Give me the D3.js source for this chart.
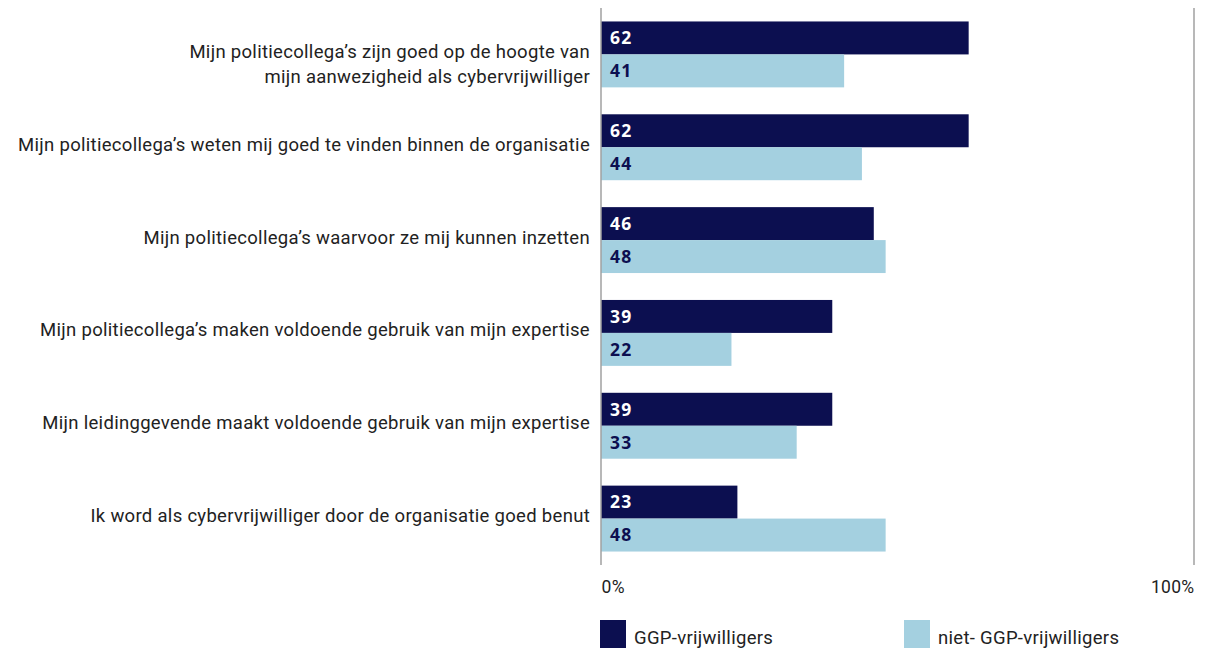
<!DOCTYPE html>
<html>
<head>
<meta charset="utf-8">
<script src="https://cdn.jsdelivr.net/npm/d3@7"></script>
<style>
  html, body { margin: 0; padding: 0; background: #fff; }
  svg { display: block; }
</style>
</head>
<body>
<svg id="chart" width="1210" height="651"></svg>
<script>
// Statements (two-line labels split with \n)
const categories = [
  "Mijn politiecollega’s zijn goed op de hoogte van\nmijn aanwezigheid als cybervrijwilliger",
  "Mijn politiecollega’s weten mij goed te vinden binnen de organisatie",
  "Mijn politiecollega’s waarvoor ze mij kunnen inzetten",
  "Mijn politiecollega’s maken voldoende gebruik van mijn expertise",
  "Mijn leidinggevende maakt voldoende gebruik van mijn expertise",
  "Ik word als cybervrijwilliger door de organisatie goed benut"
];
const seriesNames = ["GGP-vrijwilligers", "niet- GGP-vrijwilligers"];
const ggpValues = [62, 62, 46, 39, 39, 23];
const nietGgpValues = [41, 44, 48, 22, 33, 48];
const tickValues = [0, 100];
const tickLabels = ["0%", "100%"];

const colors = ["#0c0f50", "#a4d0e0"];
const labelColors = ["#ffffff", "#0c0f50"];

const svg = d3.select("#chart");
const x0 = 601, x1 = 1194, yTop = 8, yBottom = 565;

const x = d3.scaleLinear().domain([0, 100]).range([x0, x1]);
const y = d3.scaleBand().domain(categories).range([yTop, yBottom]).paddingInner(0.29).paddingOuter(0.145);
const ySub = d3.scaleBand().domain([0, 1]).range([0, y.bandwidth()]);

const series = [ggpValues, nietGgpValues];

// Bars with value labels
series.forEach((vals, si) => {
  const g = svg.append("g");
  g.selectAll("rect").data(vals).join("rect")
    .attr("x", x(0))
    .attr("y", (d, i) => y(categories[i]) + ySub(si))
    .attr("width", d => x(d) - x(0))
    .attr("height", ySub.bandwidth())
    .attr("fill", colors[si]);
  g.selectAll("text").data(vals).join("text")
    .attr("x", x(0) + 9)
    .attr("y", (d, i) => y(categories[i]) + ySub(si) + ySub.bandwidth() / 2)
    .attr("dy", "0.36em")
    .attr("fill", labelColors[si])
    .attr("font-family", "'Open Sans', sans-serif")
    .attr("font-weight", 700)
    .attr("font-size", 17.5)
    .attr("letter-spacing", 1.2)
    .text(d => d);
});

// Vertical lines at 0% and 100%
[0, 100].forEach(v => {
  svg.append("line")
    .attr("x1", x(v)).attr("x2", x(v))
    .attr("y1", yTop).attr("y2", yBottom)
    .attr("stroke", "#a0a0a0").attr("stroke-width", 1.5);
});

// Category labels: first line sits near the group centre, extra lines flow below
const catG = svg.append("g")
  .attr("font-family", "Roboto, sans-serif")
  .attr("font-size", 18.5)
  .attr("fill", "#222")
  .attr("text-anchor", "end")
  .attr("letter-spacing", 0.3);
categories.forEach(c => {
  const lines = c.split("\n");
  const cy = y(c) + y.bandwidth() / 2;
  const lh = 25;
  const t = catG.append("text").attr("x", 590).attr("y", cy - 3);
  lines.forEach((ln, i) => {
    t.append("tspan").attr("x", 590).attr("dy", i === 0 ? "0.35em" : lh).text(ln);
  });
});

// Tick labels
const xAxis = d3.axisBottom(x).tickValues(tickValues).tickFormat((d, i) => tickLabels[i]).tickSize(0).tickPadding(0);
const axisG = svg.append("g").attr("transform", `translate(0, 587)`).call(xAxis);
axisG.select(".domain").remove();
axisG.selectAll("text")
  .attr("font-family", "Roboto, sans-serif")
  .attr("font-size", 17.5)
  .attr("letter-spacing", 0.3)
  .attr("fill", "#222")
  .attr("dy", "0.35em")
  .attr("text-anchor", (d, i) => i === 0 ? "start" : "end");

// Legend
const legendX = [600, 904];
seriesNames.forEach((name, i) => {
  svg.append("rect").attr("x", legendX[i]).attr("y", 620).attr("width", 26).attr("height", 28).attr("fill", colors[i]);
  svg.append("text")
    .attr("x", legendX[i] + 34).attr("y", 638)
    .attr("dy", "0.35em")
    .attr("font-family", "Roboto, sans-serif")
    .attr("font-size", 18.5)
    .attr("letter-spacing", 0.3)
    .attr("fill", "#222")
    .text(name);
});
</script>
</body>
</html>
